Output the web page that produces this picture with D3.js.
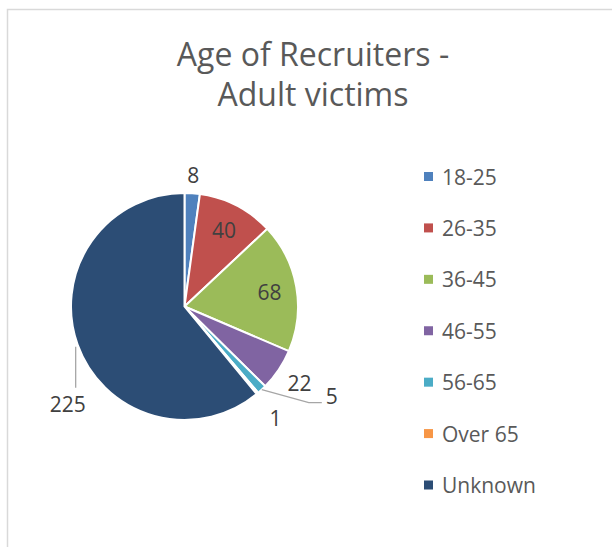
<!DOCTYPE html>
<html>
<head>
<meta charset="utf-8">
<script src="https://cdn.jsdelivr.net/npm/d3@7"></script>
<style>
  body { margin: 0; background: #fff; }
  text { font-family: "Open Sans", sans-serif; }
</style>
</head>
<body>
<div id="chart"></div>
<script>
// chart data
var categories = ["18-25", "26-35", "36-45", "46-55", "56-65", "Over 65", "Unknown"];
var values = [8, 40, 68, 22, 5, 1, 225];
var colors = ["#4f81bd", "#c0504d", "#9bbb59", "#8064a2", "#4bacc6", "#f79646", "#2c4d75"];
var titleLines = ["Age of Recruiters -", "Adult victims"];

// how each data label is placed (Excel "best fit" look)
var labelModes = ["outside", "inside", "inside", "outside", "leaderRight", "outside", "leaderDown"];
var labelGaps = [8, 0, 0, 13, 0, 22, 0];

var width = 612, height = 547,
    cx = 184.5, cy = 306.5, r = 113.5;

var svg = d3.select("#chart").append("svg")
    .attr("width", width)
    .attr("height", height);

// chart area border (runs off the right and bottom)
svg.append("rect")
    .attr("x", 7.5).attr("y", 9.5)
    .attr("width", width + 20).attr("height", height + 20)
    .attr("fill", "none")
    .attr("stroke", "#d9d9d9")
    .attr("stroke-width", 1.5);

// title
svg.append("g").selectAll("text")
    .data(titleLines)
  .enter().append("text")
    .attr("x", 313)
    .attr("y", function(d, i) { return 66 + i * 40; })
    .attr("text-anchor", "middle")
    .attr("fill", "#595959")
    .attr("font-size", 32)
    .text(function(d) { return d; });

var rows = categories.map(function(c, i) {
  return {cat: c, value: values[i], color: colors[i], mode: labelModes[i], gap: labelGaps[i]};
});

var pie = d3.pie().sort(null).value(function(d) { return d.value; });
var arcs = pie(rows);

var arc = d3.arc().innerRadius(0).outerRadius(r);
var innerLabelArc = d3.arc().innerRadius(r * 0.76).outerRadius(r * 0.76);
var edgeArc = d3.arc().innerRadius(r).outerRadius(r);

var g = svg.append("g").attr("transform", "translate(" + cx + "," + cy + ")");

g.selectAll("path.slice")
    .data(arcs)
  .enter().append("path")
    .attr("class", "slice")
    .attr("d", arc)
    .attr("fill", function(d) { return d.data.color; })
    .attr("stroke", "#fff")
    .attr("stroke-width", 2);

// data labels
var labels = g.append("g")
    .attr("fill", "#404040")
    .attr("font-size", 21);

arcs.forEach(function(d) {
  var mid = (d.startAngle + d.endAngle) / 2,
      dx = Math.sin(mid), dy = -Math.cos(mid),
      edge = edgeArc.centroid(d);

  if (d.data.mode === "inside") {
    var c = innerLabelArc.centroid(d);
    labels.append("text")
        .attr("x", c[0]).attr("y", c[1])
        .attr("text-anchor", "middle")
        .attr("dominant-baseline", "central")
        .text(d.data.value);
  } else if (d.data.mode === "outside") {
    var t = labels.append("text")
        .attr("text-anchor", "middle")
        .attr("dominant-baseline", "central")
        .text(d.data.value);
    var w = t.node().getComputedTextLength(), h = 20,
        rr = r + d.data.gap;
    t.attr("x", dx * rr + dx * w / 2)
     .attr("y", dy * rr + dy * h / 2);
  } else if (d.data.mode === "leaderRight") {
    var elbow = [edge[0] + 47, edge[1] + 13],
        end = [elbow[0] + 13, elbow[1]];
    labels.append("path")
        .attr("d", d3.line()([edge, elbow, end]))
        .attr("fill", "none")
        .attr("stroke", "#a6a6a6")
        .attr("stroke-width", 1.3);
    labels.append("text")
        .attr("x", end[0] + 4).attr("y", end[1] + 1)
        .text(d.data.value);
  } else if (d.data.mode === "leaderDown") {
    var bottom = [edge[0] - 2, edge[1] + 43];
    labels.append("path")
        .attr("d", d3.line()([[edge[0] - 2, edge[1] + 2], bottom]))
        .attr("fill", "none")
        .attr("stroke", "#a6a6a6")
        .attr("stroke-width", 1.3);
    labels.append("text")
        .attr("x", bottom[0] - 8).attr("y", bottom[1] + 24)
        .attr("text-anchor", "middle")
        .text(d.data.value);
  }
});

// legend
var ly = d3.scalePoint().domain(categories).range([176.5, 485]);

var legend = svg.append("g").selectAll("g.item")
    .data(rows)
  .enter().append("g")
    .attr("class", "item")
    .attr("transform", function(d) { return "translate(424," + ly(d.cat) + ")"; });

legend.append("rect")
    .attr("x", 0).attr("y", -4.5)
    .attr("width", 9).attr("height", 9)
    .attr("fill", function(d) { return d.color; });

legend.append("text")
    .attr("x", 18)
    .attr("y", 0)
    .attr("dominant-baseline", "central")
    .attr("fill", "#595959")
    .attr("font-size", 21)
    .text(function(d) { return d.cat; });
</script>
</body>
</html>
